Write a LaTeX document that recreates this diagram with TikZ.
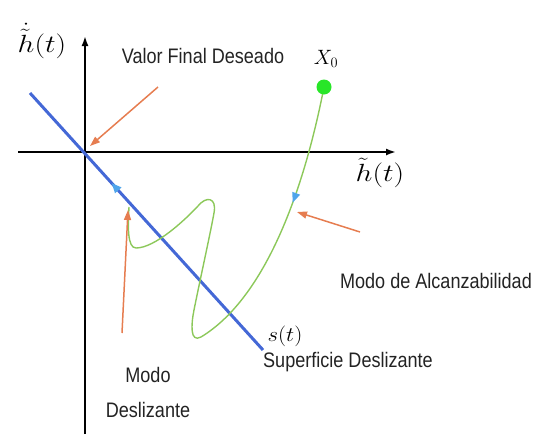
\documentclass[tikz,border=0pt]{standalone}
\usepackage{fontspec}
\setmainfont{Liberation Sans}
\usetikzlibrary{arrows.meta,decorations.markings}
\definecolor{surfblue}{RGB}{68,104,214}
\definecolor{arrblue}{RGB}{80,165,235}
\definecolor{trajgreen}{RGB}{140,200,90}
\definecolor{dotgreen}{RGB}{40,230,40}
\definecolor{orangearr}{RGB}{230,125,80}
\definecolor{txtgray}{RGB}{35,35,35}
\newcommand{\lbl}[1]{\scalebox{0.86}[1]{#1}}
\newcommand{\wide}[1]{\scalebox{1.2}[1]{#1}}
\begin{document}
\begin{tikzpicture}[x=1pt,y=-1pt,
  axis/.style={line width=1.8pt, -{Latex[length=10pt,width=7pt]}},
  txt/.style={font=\fontsize{21}{23}\selectfont, inner sep=0pt, text=txtgray, anchor=base},
  mth/.style={font=\fontsize{26}{28}\selectfont, inner sep=0pt, anchor=base},
  smth/.style={font=\fontsize{20}{22}\selectfont, inner sep=0pt, anchor=base},
  orarrow/.style={orangearr, line width=1.5pt, -{Triangle[length=10pt,width=7pt]}},
  traj/.style={trajgreen, line width=1.4pt},
  midarrow/.style={postaction={decorate}, decoration={markings, mark=at position #1 with {\arrow[arrblue]{Triangle[length=10pt,width=8pt]}}}},
  dot/.style={circle, fill=dotgreen, minimum size=15pt, inner sep=0pt}
]
\useasboundingbox (0,0) rectangle (533,434);
% axes
\coordinate (O) at (85,152);
\coordinate (xl) at (18,152);
\coordinate (xr) at (396,152);
\coordinate (yb) at (85,434);
\coordinate (yt) at (85,36);
\draw[axis] (xl) -- (xr);
\draw[axis] (yb) -- (yt);
% sliding surface
\coordinate (s1) at (30,93);
\coordinate (s2) at (263,350);
\draw[surfblue, line width=3pt, midarrow=0.65] (s2) -- (s1);
% trajectory
\coordinate (X0) at (324,87);
\coordinate (B) at (201,337);
\coordinate (E) at (129,207);
\draw[traj, midarrow=0.42] (X0) .. controls (302,200) and (262,300) .. (B);
\draw[traj, line join=round] (B)
  .. controls (190,343) and (191,325) .. (194,310)
  .. controls (200,280) and (210,235) .. (214,213)
  .. controls (217,197) and (206,196) .. (198,206)
  .. controls (185,220) and (155,248) .. (136,248)
  .. controls (127,248) and (128,225) .. (E);
\node[dot] (x0dot) at (X0) {};
% labels
\node[mth] (ydot) at (42,52) {\wide{$\dot{\tilde{h}}(t)$}};
\node[mth] (hx) at (380,181) {\wide{$\tilde{h}(t)$}};
\node[smth] (x0lbl) at (326,64) {$X_0$};
\node[smth] (st) at (285,341) {\scalebox{1.1}[1]{$s(t)$}};
\node[txt] (valor) at (203,63) {\lbl{Valor Final Deseado}};
\node[txt] (alc) at (436,288) {\lbl{Modo de Alcanzabilidad}};
\node[txt] (sup) at (348,367) {\lbl{Superficie Deslizante}};
\node[txt] (modo) at (148,382) {\lbl{Modo}};
\node[txt] (desl) at (148,417) {\lbl{Deslizante}};
% orange pointers
\coordinate (v1) at (158,87);
\coordinate (v2) at (90,146);
\coordinate (m1) at (122,333);
\coordinate (m2) at (128,210);
\coordinate (a1) at (360,232);
\coordinate (a2) at (297,212);
\draw[orarrow] (v1) -- (v2);
\draw[orarrow] (m1) -- (m2);
\draw[orarrow] (a1) -- (a2);
\end{tikzpicture}
\end{document}
